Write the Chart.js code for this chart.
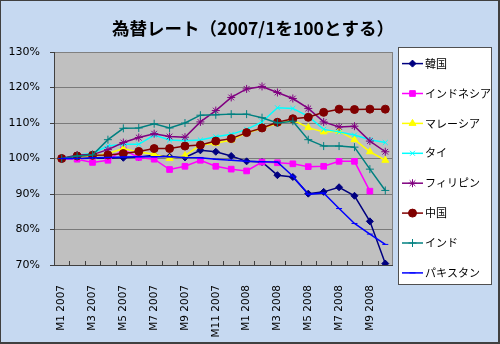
<!DOCTYPE html>
<html>
<head>
<meta charset="utf-8">
<script src="https://cdn.jsdelivr.net/npm/chart.js@4"></script>
<style>
  html, body { margin: 0; padding: 0; background: #fff; }
  #wrap { width: 500px; height: 344px; position: relative; }
</style>
</head>
<body>
<div id="wrap"><canvas id="chart" width="500" height="344"></canvas></div>
<script>
// months M1 2007 .. M10 2008
const months = ['M1 2007','M2 2007','M3 2007','M4 2007','M5 2007','M6 2007','M7 2007','M8 2007','M9 2007','M10 2007','M11 2007','M12 2007',
  'M1 2008','M2 2008','M3 2008','M4 2008','M5 2008','M6 2008','M7 2008','M8 2008','M9 2008','M10 2008'];

const korea       = [100.0, 100.0, 100.1, 100.1, 100.2, 100.4, 100.9, 100.5, 100.3, 102.3, 101.9, 100.7, 99.2, 99.0, 95.3, 94.8, 90.1, 90.6, 91.9, 89.5, 82.3, 70.4];
const indonesia   = [100.0, 99.8, 98.9, 99.5, 102.5, 100.3, 99.8, 96.9, 97.8, 99.5, 97.8, 97.0, 96.5, 99.0, 98.8, 98.5, 97.7, 97.8, 99.2, 99.2, 90.8, null];
const malaysia    = [100.0, 100.3, 100.5, 101.4, 102.8, 101.8, 101.2, 100.0, 100.8, 103.8, 104.3, 105.2, 107.2, 108.5, 109.9, 110.8, 108.7, 107.5, 107.7, 105.3, 101.9, 99.5];
const thailand    = [100.0, 100.9, 101.5, 103.5, 104.0, 104.0, 106.6, 105.2, 105.0, 105.2, 106.1, 106.8, 108.2, 110.3, 114.3, 114.1, 111.9, 108.2, 107.5, 106.6, 105.3, 104.5];
const philippines = [100.0, 101.0, 101.1, 102.5, 104.5, 105.9, 107.0, 106.2, 106.0, 110.3, 113.5, 117.2, 119.6, 120.3, 118.6, 116.9, 114.1, 110.3, 108.9, 109.1, 104.9, 101.9];
const china       = [100.0, 100.7, 100.9, 101.0, 101.4, 102.0, 102.8, 102.8, 103.5, 103.8, 104.9, 105.6, 107.3, 108.6, 110.2, 111.2, 111.6, 113.0, 113.9, 113.8, 113.9, 113.9];
const india       = [100.0, 100.7, 101.0, 105.3, 108.5, 108.6, 109.8, 108.6, 110.0, 112.2, 112.3, 112.5, 112.5, 111.5, 110.0, 110.5, 105.3, 103.5, 103.5, 103.2, 97.0, 91.0];
const pakistan    = [100.0, 100.0, 100.2, 100.3, 100.4, 100.5, 100.5, 100.5, 100.3, 100.2, 99.8, 99.5, 99.2, 99.1, 99.0, 95.0, 89.9, 90.3, 85.9, 81.7, 78.7, 75.8];

const seriesNames = ['韓国', 'インドネシア', 'マレーシア', 'タイ', 'フィリピン', '中国', 'インド', 'パキスタン'];
const yTicks = [70, 80, 90, 100, 110, 120, 130];
const titleText = '為替レート（2007/1を100とする）';

const jpFont = '"Noto Sans CJK JP", "Noto Sans", sans-serif';

function series(i, data, color, style, radius, filled) {
  return {
    label: seriesNames[i],
    data: data,
    borderColor: color,
    backgroundColor: color,
    borderWidth: 1.5,
    tension: 0,
    pointStyle: style,
    pointRadius: radius,
    pointHoverRadius: radius,
    pointBackgroundColor: filled ? color : 'transparent',
    pointBorderColor: color,
    pointBorderWidth: 1,
    spanGaps: false,
    order: 10 - i
  };
}

const datasets = [
  series(0, korea, '#000080', 'rectRot', 3.5, true),
  series(1, indonesia, '#FF00FF', 'rect', 4, true),
  series(2, malaysia, '#FFFF00', 'triangle', 4, true),
  series(3, thailand, '#00FFFF', 'crossRot', 3.5, false),
  series(4, philippines, '#800080', 'star', 4, false),
  series(5, china, '#800000', 'circle', 4, true),
  series(6, india, '#008080', 'cross', 4, false),
  series(7, pakistan, '#0000FF', 'line', 3, false)
];

// background, plot area, border, inward x tick marks, title, legend box
const excelLook = {
  id: 'excelLook',
  beforeDraw(chart) {
    const ctx = chart.ctx;
    const a = chart.chartArea;
    ctx.save();
    ctx.fillStyle = '#C6D9F1';
    ctx.fillRect(0, 0, chart.width, chart.height);
    ctx.fillStyle = '#C0C0C0';
    ctx.fillRect(a.left, a.top, a.right - a.left, a.bottom - a.top);
    ctx.restore();
  },
  beforeDatasetsDraw(chart) {
    const ctx = chart.ctx;
    const a = chart.chartArea;
    const xs = chart.scales.x;
    ctx.save();
    ctx.strokeStyle = '#808080';
    ctx.lineWidth = 1;
    ctx.strokeRect(Math.round(a.left) + 0.5, Math.round(a.top) + 0.5, Math.round(a.right - a.left) - 1, Math.round(a.bottom - a.top));
    ctx.strokeStyle = '#404040';
    ctx.beginPath();
    ctx.moveTo(Math.round(a.left) + 0.5, a.top);
    ctx.lineTo(Math.round(a.left) + 0.5, a.bottom);
    ctx.moveTo(a.left, Math.round(a.bottom) + 0.5);
    ctx.lineTo(a.right, Math.round(a.bottom) + 0.5);
    const step = (a.right - a.left) / months.length;
    for (let i = 1; i < months.length; i++) {
      const x = Math.round(xs.getPixelForValue(i) - step / 2) + 0.5;
      ctx.moveTo(x, a.bottom);
      ctx.lineTo(x, a.bottom - 4);
    }
    ctx.stroke();
    ctx.restore();
  },
  afterDraw(chart) {
    const ctx = chart.ctx;
    ctx.save();
    // title
    ctx.fillStyle = '#000';
    ctx.font = 'bold 17.5px ' + jpFont;
    ctx.textAlign = 'center';
    ctx.textBaseline = 'middle';
    ctx.fillText(titleText, 253, 28);
    // legend box
    ctx.fillStyle = '#FFFFFF';
    ctx.fillRect(398, 47, 94, 238);
    ctx.strokeStyle = '#505050';
    ctx.lineWidth = 1;
    ctx.strokeRect(398.5, 47.5, 93, 237);
    chart.data.datasets.forEach((ds, i) => {
      const y = 63.6 + i * 29.9;
      ctx.strokeStyle = ds.borderColor;
      ctx.lineWidth = 1.5;
      ctx.beginPath();
      ctx.moveTo(402, y);
      ctx.lineTo(423, y);
      ctx.stroke();
      ctx.fillStyle = ds.pointBackgroundColor;
      ctx.strokeStyle = ds.pointBorderColor;
      ctx.lineWidth = 1;
      if (Chart.helpers && Chart.helpers.drawPoint) {
        Chart.helpers.drawPoint(ctx, {pointStyle: ds.pointStyle, radius: ds.pointRadius, borderWidth: 1, rotation: 0}, 412.5, y);
      }
      ctx.fillStyle = '#000';
      ctx.font = '11px ' + jpFont;
      ctx.textBaseline = 'middle';
      ctx.textAlign = 'left';
      ctx.fillText(ds.label, 425, y);
    });
    // outer frame
    ctx.strokeStyle = '#404040';
    ctx.lineWidth = 1;
    ctx.strokeRect(0.5, 0.5, chart.width - 1, chart.height - 1);
    ctx.fillStyle = '#404040';
    ctx.fillRect(0, chart.height - 2, chart.width, 2);
    ctx.fillRect(chart.width - 2, 0, 2, chart.height);
    ctx.restore();
  }
};

new Chart(document.getElementById('chart'), {
  type: 'line',
  data: { labels: months, datasets: datasets },
  options: {
    responsive: false,
    animation: false,
    events: [],
    layout: { padding: { left: 0, right: 107, top: 52, bottom: 0 } },
    plugins: {
      legend: { display: false },
      tooltip: { enabled: false },
      title: { display: false }
    },
    scales: {
      x: {
        offset: true,
        grid: { display: false },
        border: { display: false },
        ticks: {
          autoSkip: false,
          maxRotation: 90,
          minRotation: 90,
          padding: 12,
          color: '#000',
          font: { family: '"DejaVu Sans", sans-serif', size: 10.5 },
          callback: function (v, i) { return i % 2 === 0 ? months[i] : ''; }
        },
        afterFit(scale) { scale.height = 79; }
      },
      y: {
        min: yTicks[0],
        max: yTicks[yTicks.length - 1],
        afterBuildTicks(scale) { scale.ticks = yTicks.map(v => ({ value: v })); },
        grid: { color: '#7A7A7A', lineWidth: 1, tickLength: 4, tickColor: '#404040' },
        border: { display: false },
        ticks: {
          padding: 10,
          color: '#000',
          font: { family: '"DejaVu Sans", sans-serif', size: 11 },
          callback: v => v + '%'
        },
        afterFit(scale) { scale.width = 54; }
      }
    }
  },
  plugins: [excelLook]
});
</script>
</body>
</html>
